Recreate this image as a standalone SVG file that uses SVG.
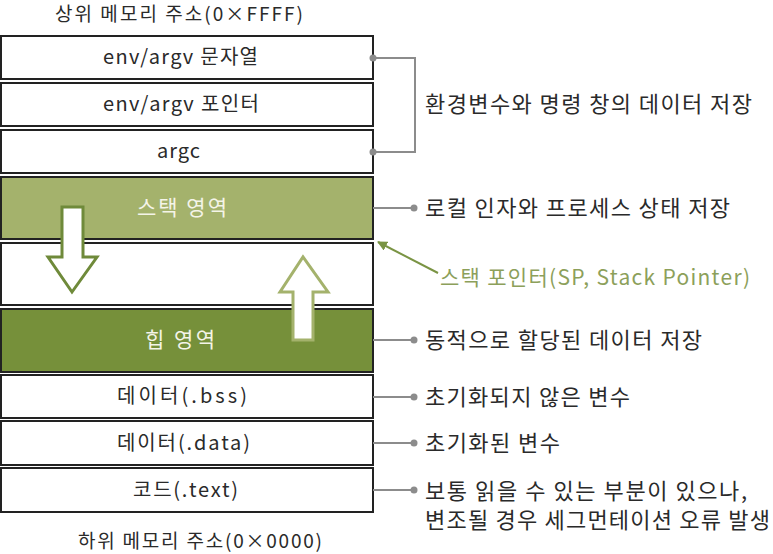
<svg xmlns="http://www.w3.org/2000/svg" width="773" height="554" viewBox="0 0 773 554">
<style>
text{font-family:"Noto Sans CJK KR","Liberation Sans",sans-serif;}
.lbl{font-size:20px;fill:#2a2a2a;}
.wl{font-size:21px;fill:#f4f4e8;}
.note{font-size:22px;fill:#2a2a2a;}
.ttl{font-size:19px;fill:#2a2a2a;}
.box{fill:#fff;stroke:#222;stroke-width:2;}
.conn{stroke:#8c8c8c;stroke-width:2;fill:none;}
.dot{fill:#8c8c8c;}
</style>
<defs>
<marker id="sp" viewBox="0 0 10 10" refX="9" refY="5" markerWidth="5" markerHeight="5" orient="auto" markerUnits="strokeWidth">
<path d="M0,0 L10,5 L0,10 z" fill="#7a9444"/>
</marker>
</defs>
<text class="ttl" x="55" y="21" textLength="248" lengthAdjust="spacing">상위 메모리 주소(0×FFFF)</text>
<g id="n-env-str"><rect class="box" x="1" y="36" width="372" height="43"/><text class="lbl" x="103" y="64" textLength="155" lengthAdjust="spacing">env/argv 문자열</text></g>
<g id="n-env-ptr"><rect class="box" x="1" y="83" width="372" height="43"/><text class="lbl" x="103" y="111" textLength="156" lengthAdjust="spacing">env/argv 포인터</text></g>
<g id="n-argc"><rect class="box" x="1" y="130" width="372" height="43"/><text class="lbl" x="157" y="158" textLength="43" lengthAdjust="spacing">argc</text></g>
<g id="n-stack"><rect x="1" y="177" width="372" height="62" fill="#a4b26c" stroke="#222" stroke-width="2"/><text class="wl" x="137" y="215" textLength="90" lengthAdjust="spacing">스택 영역</text></g>
<g id="n-free"><rect class="box" x="1" y="243" width="372" height="62"/></g>
<g id="n-heap"><rect x="1" y="309" width="372" height="63" fill="#76903a" stroke="#222" stroke-width="2"/><text class="wl" x="145" y="347" textLength="70" lengthAdjust="spacing">힙 영역</text></g>
<g id="n-bss"><rect class="box" x="1" y="375" width="372" height="43"/><text class="lbl" x="117" y="403" textLength="130" lengthAdjust="spacing">데이터(.bss)</text></g>
<g id="n-data"><rect class="box" x="1" y="421" width="372" height="44"/><text class="lbl" x="117" y="450" textLength="133" lengthAdjust="spacing">데이터(.data)</text></g>
<g id="n-text"><rect class="box" x="1" y="468" width="372" height="44"/><text class="lbl" x="133" y="497" textLength="105" lengthAdjust="spacing">코드(.text)</text></g>
<text class="ttl" x="78" y="548" textLength="244" lengthAdjust="spacing">하위 메모리 주소(0×0000)</text>
<g id="arrows">
<path d="M62,207 L83,207 L83,257 L97,257 L72,292 L48,257 L62,257 Z" fill="#fff" stroke="#6f8a3a" stroke-width="3" stroke-linejoin="miter"/>
<path d="M293,340 L313,340 L313,292 L328,292 L303,257 L280,292 L293,292 Z" fill="#fff" stroke="#a4b26c" stroke-width="3" stroke-linejoin="miter"/>
</g>
<g id="connectors">
<path class="conn" d="M373,58 H415 V152 H373"/>
<circle class="dot" cx="373" cy="58" r="3.5"/>
<circle class="dot" cx="373" cy="152" r="3.5"/>
<line class="conn" x1="373" y1="208" x2="413" y2="208"/><circle class="dot" cx="414" cy="208" r="3.5"/>
<line class="conn" x1="373" y1="340" x2="413" y2="340"/><circle class="dot" cx="414" cy="340" r="3.5"/>
<line class="conn" x1="373" y1="397" x2="413" y2="397"/><circle class="dot" cx="414" cy="397" r="3.5"/>
<line class="conn" x1="373" y1="443" x2="413" y2="443"/><circle class="dot" cx="414" cy="443" r="3.5"/>
<line class="conn" x1="373" y1="490" x2="413" y2="490"/><circle class="dot" cx="414" cy="490" r="3.5"/>
<line x1="438" y1="273" x2="378" y2="242" stroke="#7a9444" stroke-width="2" marker-end="url(#sp)"/>
</g>
<g id="notes">
<text class="note" x="425" y="112" textLength="327" lengthAdjust="spacing">환경변수와 명령 창의 데이터 저장</text>
<text class="note" x="425" y="216" textLength="305" lengthAdjust="spacing">로컬 인자와 프로세스 상태 저장</text>
<text x="440" y="285" font-size="21" fill="#8ca05a" textLength="310" lengthAdjust="spacing">스택 포인터(SP, Stack Pointer)</text>
<text class="note" x="425" y="348" textLength="277" lengthAdjust="spacing">동적으로 할당된 데이터 저장</text>
<text class="note" x="425" y="405" textLength="205" lengthAdjust="spacing">초기화되지 않은 변수</text>
<text class="note" x="425" y="451" textLength="135" lengthAdjust="spacing">초기화된 변수</text>
<text class="note" x="425" y="499" textLength="322" lengthAdjust="spacing">보통 읽을 수 있는 부분이 있으나,</text>
<text class="note" x="425" y="528" textLength="345" lengthAdjust="spacing">변조될 경우 세그먼테이션 오류 발생</text>
</g>
</svg>
